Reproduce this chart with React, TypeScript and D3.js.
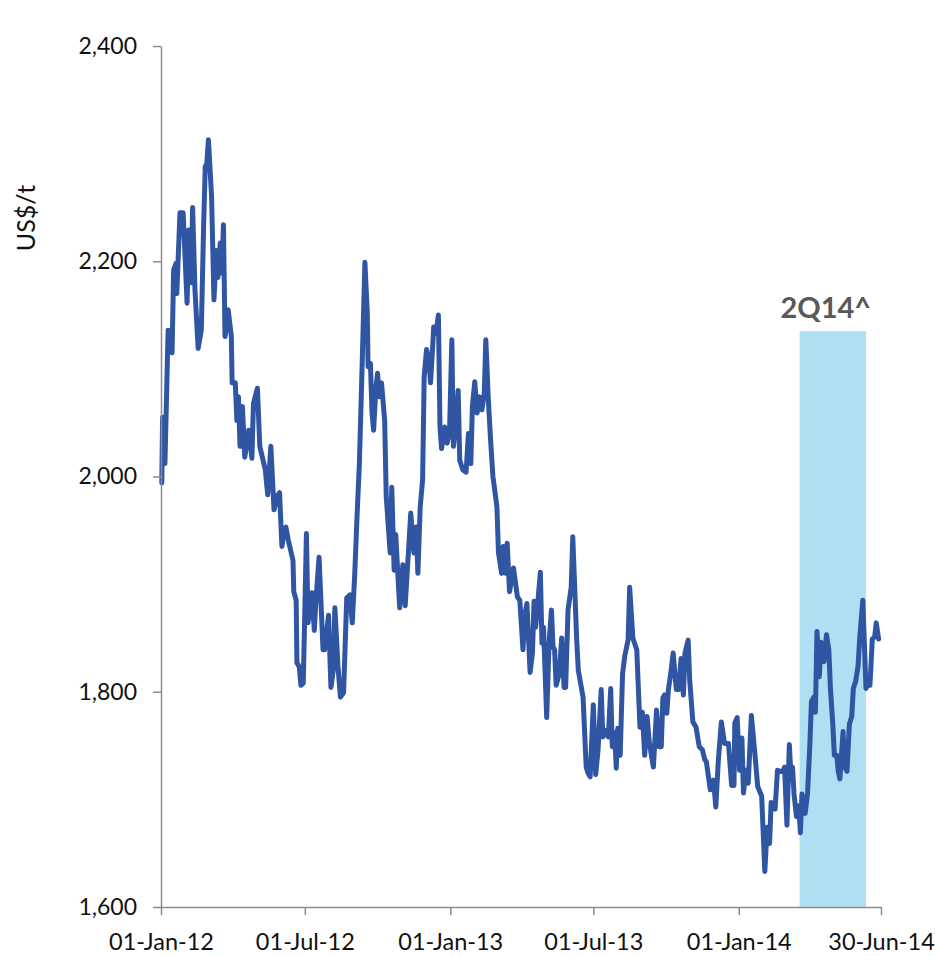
import * as d3 from "d3";
import React, { useRef, useEffect } from "react";

// days since 01-Jan-12
const dayOffsets = [
  1, 2, 5, 9, 14, 16, 19, 20, 24, 28, 33, 35, 38, 40, 43, 47, 51, 54, 56, 58,
  60, 64, 67, 70, 72, 75, 77, 79, 81, 85, 89, 90, 94, 96, 98, 100, 103, 106, 111, 115,
  117, 122, 125, 132, 135, 139, 143, 148, 150, 153, 156, 158, 161, 167, 168, 171, 172, 175, 177, 180,
  182, 184, 186, 191, 194, 196, 200, 205, 207, 212, 215, 218, 220, 224, 227, 231, 235, 239, 242, 245,
  248, 251, 254, 258, 261, 262, 265, 267, 269, 272, 274, 276, 279, 283, 285, 290, 292, 295, 297, 302,
  306, 309, 316, 320, 323, 325, 328, 331, 333, 336, 339, 341, 344, 345, 348, 351, 353, 355, 359, 362,
  365, 368, 370, 373, 376, 378, 382, 386, 389, 392, 394, 397, 400, 403, 406, 409, 411, 414, 417, 420,
  425, 427, 431, 433, 436, 438, 441, 446, 451, 454, 458, 460, 463, 467, 470, 472, 474, 477, 480, 482,
  484, 488, 491, 494, 496, 498, 500, 504, 507, 510, 512, 515, 519, 521, 526, 528, 534, 538, 540, 543,
  547, 550, 553, 557, 559, 563, 566, 569, 571, 574, 576, 578, 581, 584, 587, 591, 593, 597, 602, 606,
  609, 612, 615, 618, 623, 627, 630, 633, 635, 637, 640, 642, 645, 648, 652, 655, 658, 661, 663, 667,
  669, 673, 677, 681, 685, 688, 690, 695, 699, 702, 705, 709, 713, 718, 722, 725, 726, 729, 732, 735,
  737, 740, 743, 747, 751, 755, 760, 764, 767, 770, 772, 777, 780, 784, 787, 789, 792, 795, 797, 799,
  801, 804, 807, 809, 811, 815, 818, 821, 823, 826, 828, 830, 833, 835, 839, 842, 845, 847, 850, 852,
  855, 857, 859, 863, 865, 868, 871, 874, 876, 879, 882, 884, 888, 892, 895, 897, 900, 903, 905, 908,
];

// US$/t
const prices = [
  1994, 2055, 2012, 2136, 2115, 2192, 2198, 2170, 2245, 2245, 2161, 2229, 2180, 2250, 2173, 2119, 2136, 2235, 2288, 2291,
  2313, 2260, 2164, 2210, 2185, 2217, 2189, 2234, 2130, 2155, 2130, 2087, 2087, 2052, 2074, 2028, 2065, 2018, 2043, 2017,
  2068, 2082, 2028, 2006, 1983, 2028, 1969, 1983, 1985, 1935, 1950, 1953, 1941, 1922, 1893, 1885, 1827, 1823, 1806, 1808,
  1876, 1947, 1864, 1892, 1857, 1885, 1925, 1839, 1839, 1871, 1804, 1820, 1878, 1823, 1795, 1799, 1887, 1890, 1864, 1907,
  1962, 2012, 2090, 2199, 2152, 2102, 2105, 2059, 2043, 2083, 2096, 2074, 2087, 2052, 1981, 1929, 1990, 1913, 1946, 1878,
  1918, 1880, 1966, 1929, 1953, 1910, 1972, 1997, 2093, 2118, 2108, 2087, 2124, 2139, 2133, 2150, 2046, 2026, 2046, 2031,
  2040, 2127, 2028, 2046, 2080, 2015, 2006, 2004, 2040, 2012, 2065, 2088, 2059, 2074, 2062, 2077, 2127, 2074, 2034, 2000,
  1972, 1929, 1910, 1935, 1910, 1938, 1893, 1915, 1888, 1885, 1839, 1870, 1882, 1818, 1836, 1884, 1860, 1885, 1911, 1845,
  1860, 1776, 1845, 1876, 1842, 1839, 1806, 1817, 1850, 1804, 1804, 1876, 1897, 1944, 1848, 1820, 1795, 1730, 1725, 1721,
  1788, 1723, 1746, 1802, 1758, 1764, 1758, 1803, 1749, 1762, 1729, 1766, 1741, 1817, 1834, 1848, 1897, 1850, 1839, 1767,
  1781, 1741, 1777, 1752, 1730, 1783, 1749, 1749, 1794, 1797, 1780, 1802, 1817, 1836, 1802, 1802, 1831, 1797, 1836, 1848,
  1810, 1772, 1767, 1749, 1746, 1737, 1735, 1709, 1718, 1693, 1734, 1772, 1752, 1752, 1713, 1713, 1771, 1776, 1727, 1757,
  1706, 1727, 1715, 1778, 1746, 1712, 1703, 1633, 1674, 1659, 1697, 1691, 1727, 1726, 1726, 1730, 1676, 1751, 1723, 1730,
  1705, 1684, 1694, 1669, 1705, 1687, 1705, 1751, 1791, 1795, 1781, 1856, 1814, 1846, 1828, 1853, 1839, 1803, 1770, 1741,
  1741, 1726, 1719, 1763, 1730, 1726, 1770, 1777, 1803, 1810, 1824, 1849, 1885, 1803, 1810, 1806, 1849, 1851, 1864, 1849,
];

const yTicks = [1600, 1800, 2000, 2200, 2400];
const xTickDates = ["2012-01-01", "2012-07-01", "2013-01-01", "2013-07-01", "2014-01-01", "2014-06-30"];
const bandLabel = "2Q14^";
const bandStartDay = 808;
const bandEndDay = 892;
const bandTop = 2135;
const yLabel = "US$/t";

const W = 935;
const H = 956;
const font = "Lato, 'Open Sans', sans-serif";

const start = new Date(2012, 0, 1);
const parse = d3.timeParse("%Y-%m-%d");

const App: React.FC = () => {
  const gx = useRef<SVGGElement>(null);
  const gy = useRef<SVGGElement>(null);

  const x = d3.scaleTime([start, new Date(2014, 5, 30)], [161, 881]);
  const y = d3.scaleLinear([1600, 2400], [907, 46]);

  const data = dayOffsets.map((d, i) => ({ date: d3.timeDay.offset(start, d), value: prices[i] }));
  const line = d3.line<{ date: Date; value: number }>()
    .x(d => x(d.date))
    .y(d => y(d.value))
    .curve(d3.curveLinear);

  const b0 = x(d3.timeDay.offset(start, bandStartDay));
  const b1 = x(d3.timeDay.offset(start, bandEndDay));

  useEffect(() => {
    if (gx.current) {
      const g = d3.select(gx.current);
      g.call(
        d3.axisBottom(x)
          .tickValues(xTickDates.map(s => parse(s) as Date))
          .tickFormat(d => d3.timeFormat("%d-%b-%y")(d as Date))
          .tickSize(8)
          .tickSizeOuter(0)
          .tickPadding(18)
      );
      g.selectAll("path, line").attr("stroke", "#8c8c8c").attr("stroke-width", 1.5);
      g.selectAll("text").attr("font-family", font).attr("font-size", 23.5).attr("fill", "#111");
    }
    if (gy.current) {
      const g = d3.select(gy.current);
      g.call(
        d3.axisLeft(y)
          .tickValues(yTicks)
          .tickFormat(d3.format(","))
          .tickSize(8)
          .tickSizeOuter(0)
          .tickPadding(16)
      );
      g.selectAll("path, line").attr("stroke", "#8c8c8c").attr("stroke-width", 1.5);
      g.selectAll("text").attr("font-family", font).attr("font-size", 23).attr("fill", "#111");
    }
  }, []);

  return (
    <svg width={W} height={H} style={{ position: "absolute", left: 0, top: 0, background: "#fff" }}>
      <rect x={b0} y={y(bandTop)} width={b1 - b0} height={y(1600) - y(bandTop)} fill="#aedff3" />
      <text x={(b0 + b1) / 2 - 7} y={318} textAnchor="middle" fontFamily={font} fontWeight="bold" fontSize={29} fill="#595959">
        {bandLabel}
      </text>
      <path d={line(data) || ""} fill="none" stroke="#2f55a3" strokeWidth={5} strokeLinejoin="round" strokeLinecap="round" />
      <g ref={gx} transform={`translate(0, ${y(1600)})`} />
      <g ref={gy} transform={`translate(${x(start)}, 0)`} />
      <text transform={`translate(35, 218) rotate(-90)`} textAnchor="middle" fontFamily={font} fontSize={25} fill="#111">
        {yLabel}
      </text>
    </svg>
  );
};

export default App;
